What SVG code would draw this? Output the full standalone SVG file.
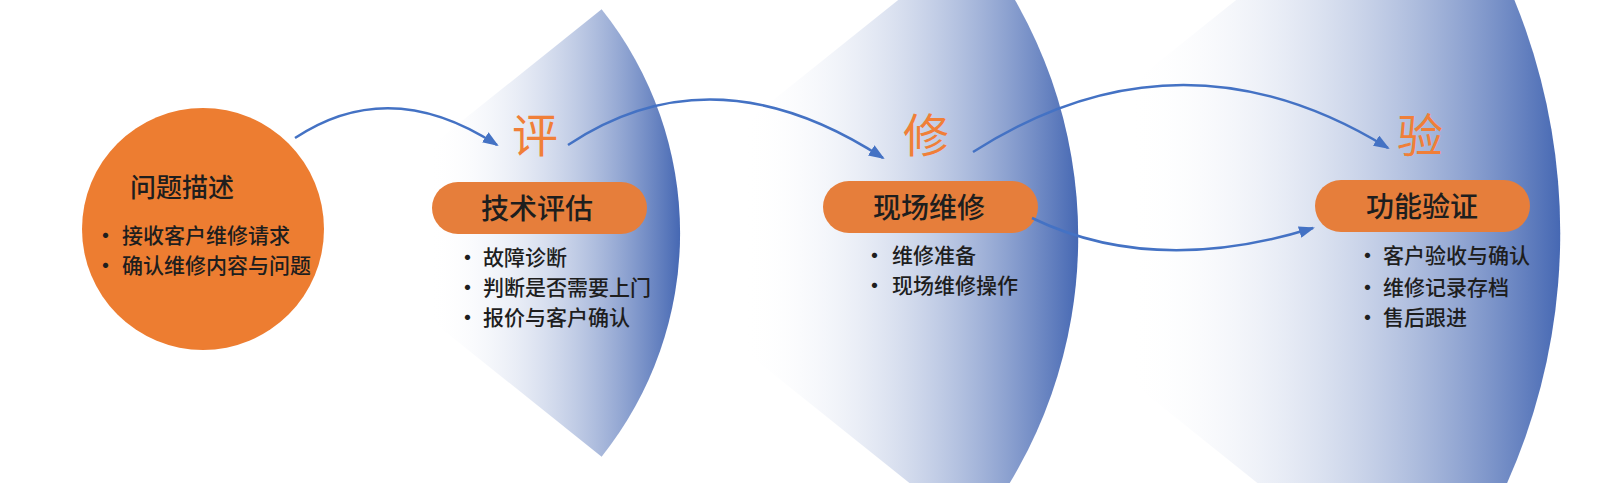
<svg xmlns="http://www.w3.org/2000/svg" width="1606" height="483" viewBox="0 0 1606 483">
<style>
  text { font-family: "Noto Sans CJK SC", "Noto Sans", sans-serif; fill: #1e1e1e; }
  .title { font-size: 26px; font-weight: 500; }
  .pill-text { font-size: 28px; font-weight: 500; text-anchor: middle; }
  .item { font-size: 21px; font-weight: 500; }
  .dot { font-weight: 700; }
  .big { font-size: 46px; fill: #f07f38; text-anchor: middle; }
  .pill { fill: #e67e3b; }
  .conn { fill: none; stroke: #4472c4; stroke-width: 2.5; marker-end: url(#arrow); }
</style>
<defs>
  <linearGradient id="fan" x1="0" y1="0" x2="1" y2="0">
    <stop offset="0.3" stop-color="#ffffff" stop-opacity="0"/>
    <stop offset="1" stop-color="#4668b3" stop-opacity="1"/>
  </linearGradient>
  <marker id="arrow" viewBox="0 0 16 12" markerWidth="16" markerHeight="12" refX="14" refY="6" orient="auto" markerUnits="userSpaceOnUse">
    <path d="M0,0 L16,6 L0,12 z" fill="#4472c4"/>
  </marker>
</defs>
<rect width="1606" height="483" fill="#ffffff"/>

<g id="fan-1">
  <path d="M322 233 L601.6 9.3 A358 358 0 0 1 601.6 456.7 Z" fill="url(#fan)"/>
</g>
<g id="fan-2">
  <path d="M602 237 L973.8 -60.5 A476 476 0 0 1 973.8 534.5 Z" fill="url(#fan)"/>
</g>
<g id="fan-3">
  <path d="M945 233 L1425.3 -151.4 A615 615 0 0 1 1425.3 617.4 Z" fill="url(#fan)"/>
</g>

<g id="node-problem">
  <circle cx="203" cy="229" r="121" fill="#ed7d31"/>
  <text class="title" x="130" y="197">问题描述</text>
  <text class="item" y="243"><tspan class="dot" x="95">•</tspan><tspan x="122">接收客户维修请求</tspan></text>
  <text class="item" y="273"><tspan class="dot" x="95">•</tspan><tspan x="122">确认维修内容与问题</tspan></text>
</g>

<g id="node-assess">
  <text class="big" x="535" y="152">评</text>
  <rect class="pill" x="432" y="182" width="215" height="52" rx="26"/>
  <text class="pill-text" x="537" y="219">技术评估</text>
  <text class="item" y="265"><tspan class="dot" x="457">•</tspan><tspan x="483">故障诊断</tspan></text>
  <text class="item" y="295"><tspan class="dot" x="457">•</tspan><tspan x="483">判断是否需要上门</tspan></text>
  <text class="item" y="325"><tspan class="dot" x="457">•</tspan><tspan x="483">报价与客户确认</tspan></text>
</g>

<g id="node-repair">
  <text class="big" x="926" y="152">修</text>
  <rect class="pill" x="823" y="181" width="215" height="52" rx="26"/>
  <text class="pill-text" x="929" y="218">现场维修</text>
  <text class="item" y="263"><tspan class="dot" x="864">•</tspan><tspan x="892">维修准备</tspan></text>
  <text class="item" y="293"><tspan class="dot" x="864">•</tspan><tspan x="892">现场维修操作</tspan></text>
</g>

<g id="node-verify">
  <text class="big" x="1420" y="152">验</text>
  <rect class="pill" x="1315" y="180" width="215" height="52" rx="26"/>
  <text class="pill-text" x="1422" y="217">功能验证</text>
  <text class="item" y="263"><tspan class="dot" x="1357">•</tspan><tspan x="1383">客户验收与确认</tspan></text>
  <text class="item" y="295"><tspan class="dot" x="1357">•</tspan><tspan x="1383">维修记录存档</tspan></text>
  <text class="item" y="325"><tspan class="dot" x="1357">•</tspan><tspan x="1383">售后跟进</tspan></text>
</g>

<g id="connectors">
  <path class="conn" d="M295 138 Q390 75 497 145"/>
  <path class="conn" d="M568 145 Q714 48 883 158"/>
  <path class="conn" d="M973 152 Q1180 20 1388 148"/>
  <path class="conn" d="M1032 218 Q1154 277 1313 228"/>
</g>
</svg>
